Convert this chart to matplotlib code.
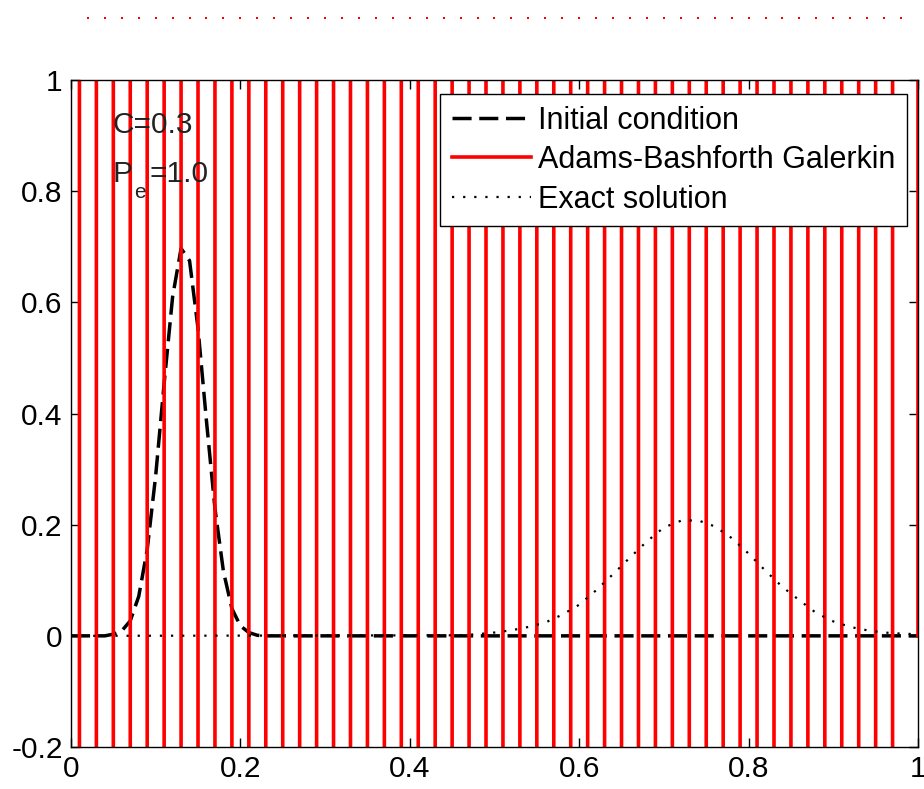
import numpy as np
import matplotlib
matplotlib.use("Agg")
import matplotlib.pyplot as plt
import matplotlib.transforms as mtransforms

plt.rcParams['font.family'] = ['Liberation Sans', 'DejaVu Sans']

# initial condition (pulse centred near x=0.133)
ic_x = [0.0, 0.04, 0.05, 0.06, 0.07, 0.08, 0.09, 0.10, 0.11, 0.12, 0.13, 0.14,
        0.15, 0.16, 0.17, 0.18, 0.19, 0.20, 0.21, 0.22, 0.23, 1.0]
ic_y = [0.0, 0.0, 0.003, 0.009, 0.027, 0.071, 0.155, 0.288, 0.454, 0.610, 0.697, 0.675,
        0.553, 0.386, 0.229, 0.116, 0.049, 0.018, 0.006, 0.001, 0.0, 0.0]

# Adams-Bashforth Galerkin: nodes every 0.02, blown up (alternating huge values)
ab_x = [0.00, 0.02, 0.04, 0.06, 0.08, 0.10, 0.12, 0.14, 0.16, 0.18,
        0.20, 0.22, 0.24, 0.26, 0.28, 0.30, 0.32, 0.34, 0.36, 0.38,
        0.40, 0.42, 0.44, 0.46, 0.48, 0.50, 0.52, 0.54, 0.56, 0.58,
        0.60, 0.62, 0.64, 0.66, 0.68, 0.70, 0.72, 0.74, 0.76, 0.78,
        0.80, 0.82, 0.84, 0.86, 0.88, 0.90, 0.92, 0.94, 0.96, 0.98, 1.00]
ab_y = [-1e4, 1e4, -1e4, 1e4, -1e4, 1e4, -1e4, 1e4, -1e4, 1e4,
        -1e4, 1e4, -1e4, 1e4, -1e4, 1e4, -1e4, 1e4, -1e4, 1e4,
        -1e4, 1e4, -1e4, 1e4, -1e4, 1e4, -1e4, 1e4, -1e4, 1e4,
        -1e4, 1e4, -1e4, 1e4, -1e4, 1e4, -1e4, 1e4, -1e4, 1e4,
        -1e4, 1e4, -1e4, 1e4, -1e4, 1e4, -1e4, 1e4, -1e4, 1e4, 0]

# exact solution
ex_x = [0.0, 0.46, 0.48, 0.50, 0.52, 0.54, 0.56, 0.58, 0.60, 0.62, 0.64, 0.66,
        0.68, 0.70, 0.72, 0.74, 0.76, 0.78, 0.80, 0.82, 0.84, 0.86, 0.88,
        0.90, 0.92, 0.94, 0.96, 0.98, 1.00]
ex_y = [0.0, 0.001, 0.003, 0.006, 0.010, 0.016, 0.024, 0.038, 0.056, 0.082, 0.111, 0.141,
        0.170, 0.195, 0.207, 0.208, 0.197, 0.176, 0.148, 0.117, 0.088, 0.064, 0.041,
        0.026, 0.016, 0.010, 0.006, 0.004, 0.003]

fig = plt.figure(figsize=(9.24, 7.89), dpi=100)
ax = fig.add_axes([0.0768, 0.0532, 0.9167, 0.8454])

ax.plot(ic_x, ic_y, color='black', lw=2.5, dashes=(5.5, 2.2), label='Initial condition')
ax.plot(ab_x, ab_y, color='red', lw=2.6, label='Adams-Bashforth Galerkin')
ax.plot(ex_x, ex_y, color='black', lw=1.6, dashes=(1, 4), label='Exact solution')

# stray red points above the axes (vertex artefacts of the blown-up solution)
trans = mtransforms.blended_transform_factory(ax.transData, ax.transAxes)
ax.plot(ab_x[1:-1], [1.093] * (len(ab_x) - 2), 's', color='red', ms=2.0, mew=0,
        transform=trans, clip_on=False)

ax.set_xlim(0, 1)
ax.set_ylim(-0.2, 1)
ax.set_xticks([0, 0.2, 0.4, 0.6, 0.8, 1])
ax.set_xticklabels(['0', '0.2', '0.4', '0.6', '0.8', '1'])
ax.set_yticks([-0.2, 0, 0.2, 0.4, 0.6, 0.8, 1])
ax.set_yticklabels(['-0.2', '0', '0.2', '0.4', '0.6', '0.8', '1'])
ax.tick_params(direction='in', length=6.5, width=1, labelsize=21.5,
               top=True, right=True, pad=6)
for s in ax.spines.values():
    s.set_linewidth(1)

txt = '#222222'
ax.text(0.0496, 0.905, 'C=0.3', fontsize=21.5, va='baseline', ha='left', color=txt)
ax.text(0.0496, 0.8165, 'P', fontsize=21.5, va='baseline', ha='left', color=txt)
ax.text(0.0744, 0.788, 'e', fontsize=15, va='baseline', ha='left', color=txt)
ax.text(0.0925, 0.8165, '=1.0', fontsize=21.5, va='baseline', ha='left', color=txt)

leg = ax.legend(loc='upper right', bbox_to_anchor=(0.987, 0.979), borderaxespad=0,
                fontsize=22, handlelength=2.6, handletextpad=0.23, labelspacing=0.31,
                borderpad=0.38, fancybox=False, framealpha=1, edgecolor='black')
leg.get_frame().set_linewidth(1)

fig.savefig('out.png', dpi=100)
